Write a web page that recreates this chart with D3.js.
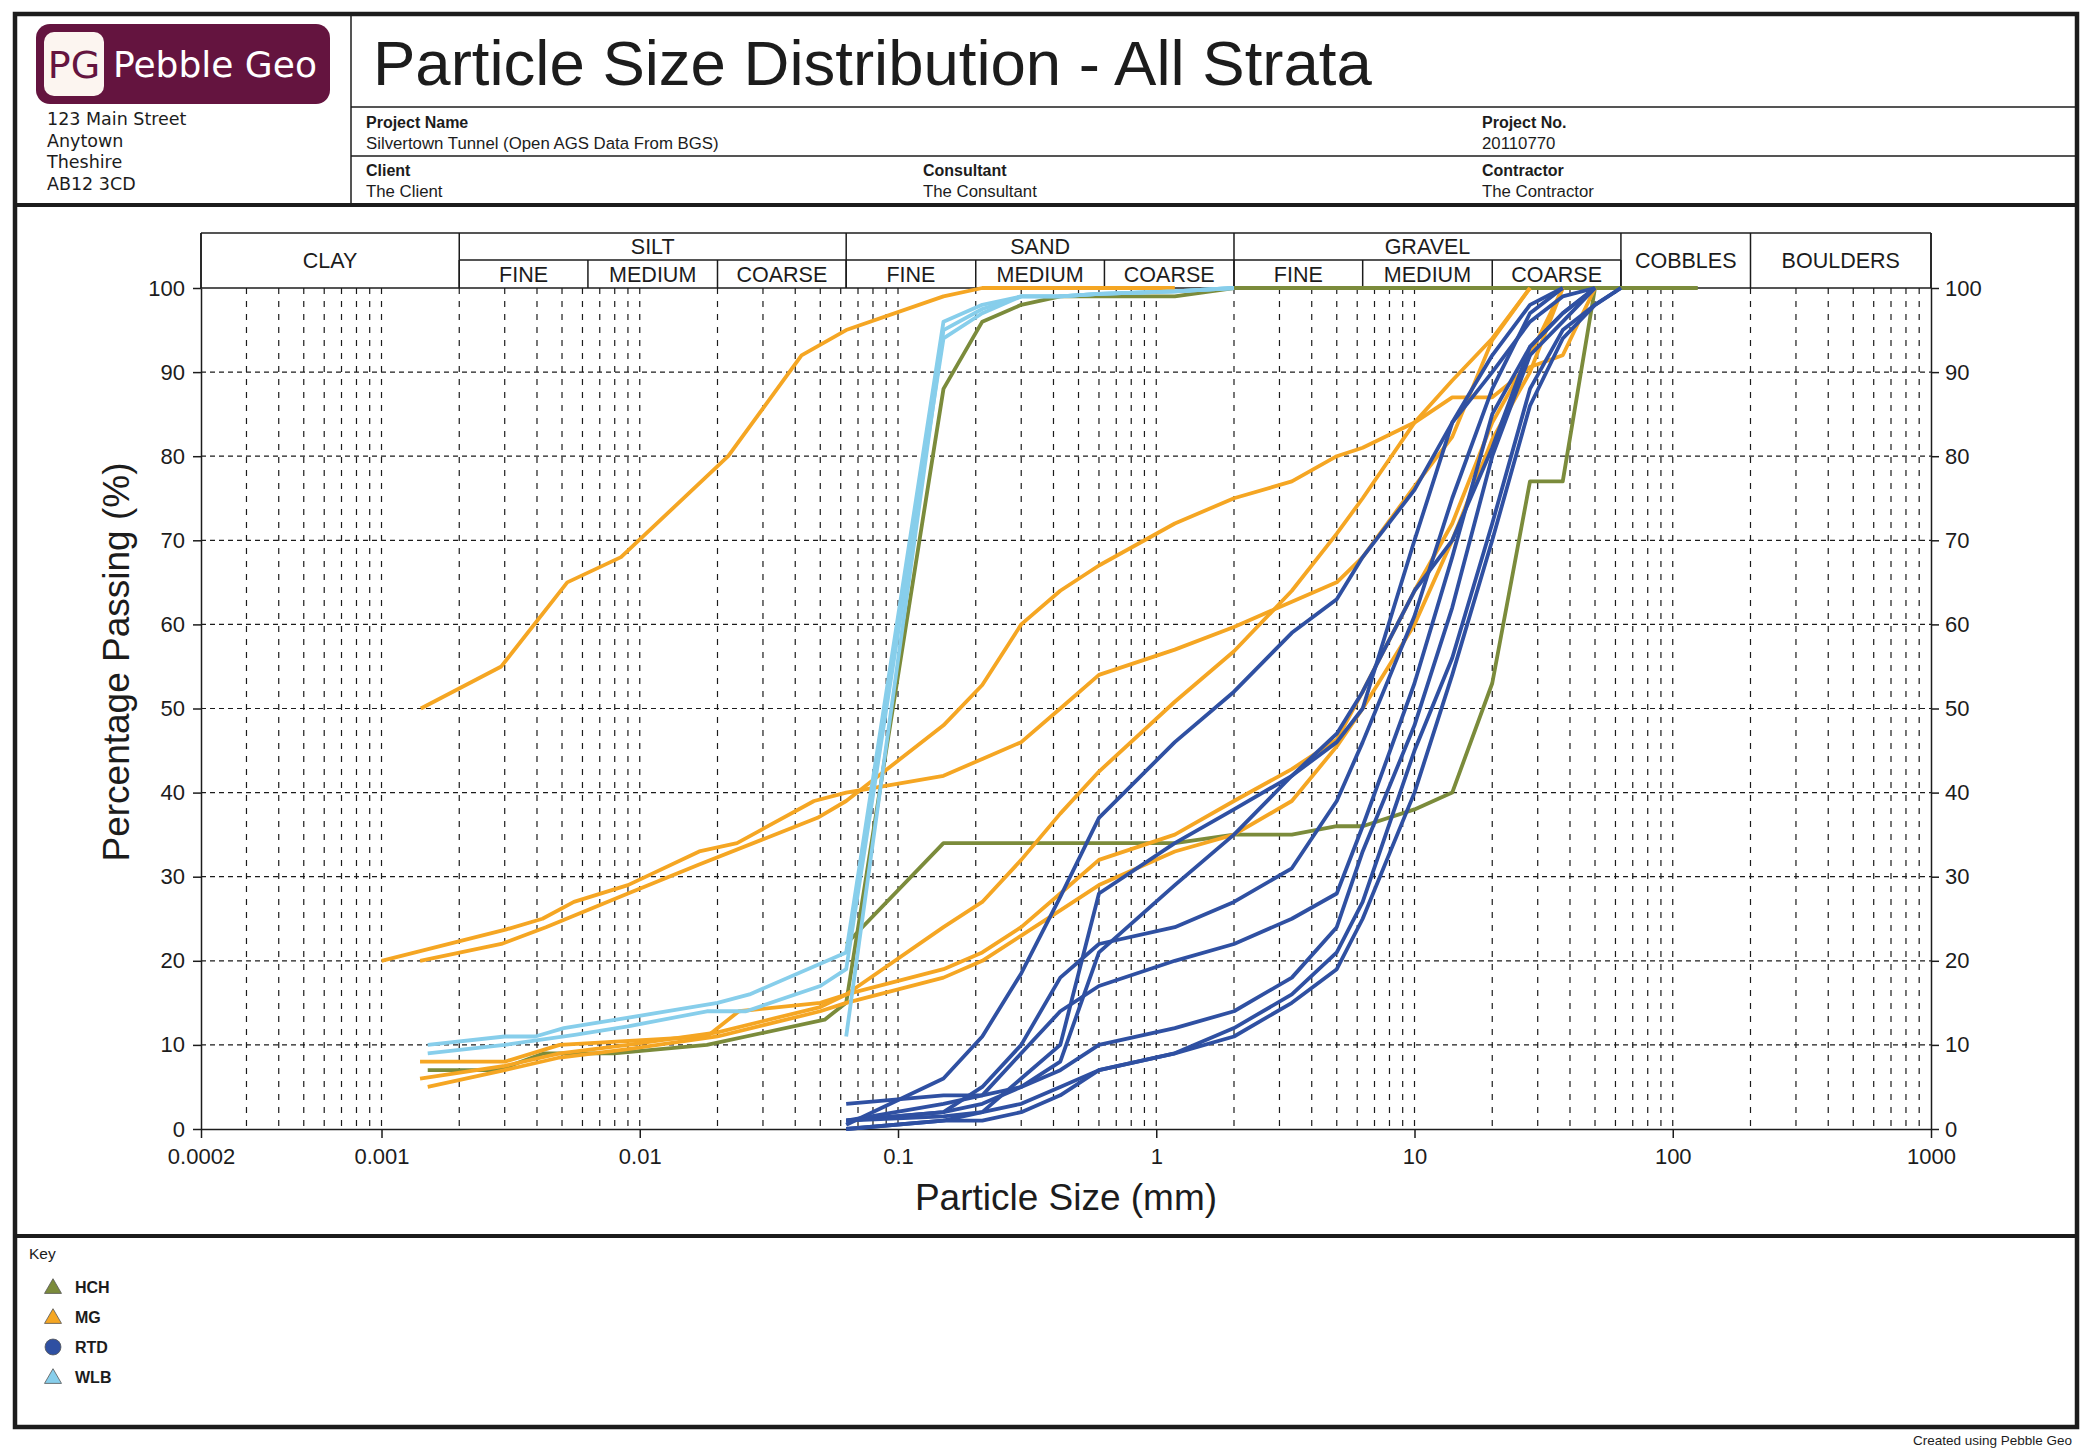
<!DOCTYPE html>
<html>
<head>
<meta charset="utf-8">
<title>Particle Size Distribution - All Strata</title>
<script src="https://cdn.jsdelivr.net/npm/d3@7"></script>
<style>
  html, body { margin: 0; padding: 0; background: #fff; }
  svg { display: block; font-family: "Liberation Sans", Arial, sans-serif; }
</style>
</head>
<body>
<svg id="chart" width="2092" height="1448"></svg>
<script>
// ---- Data -------------------------------------------------------------

const xTicks = [0.0002, 0.001, 0.01, 0.1, 1, 10, 100, 1000];
const xTickLabels = ['0.0002', '0.001', '0.01', '0.1', '1', '10', '100', '1000'];
const yTicks = [0, 10, 20, 30, 40, 50, 60, 70, 80, 90, 100];

// BS classification bands (mm)
const bandNames = ['CLAY', 'SILT', 'SAND', 'GRAVEL', 'COBBLES', 'BOULDERS'];
const bandEdges = [0.0002, 0.002, 0.063, 2, 63, 200, 1000];
const subNames = ['FINE', 'MEDIUM', 'COARSE'];
const subEdges = [0.002, 0.0063, 0.02, 0.063, 0.2, 0.63, 2, 6.3, 20, 63];

const strata = ['HCH', 'MG', 'RTD', 'WLB'];

// [particle size mm, % passing]
const hch1 = [[0.00151, 7], [0.00282, 7], [0.00426, 9], [0.00794, 9], [0.0182, 10], [0.052, 13], [0.063, 15],
  [0.15, 88], [0.212, 96], [0.3, 98], [0.425, 99], [0.6, 99], [1.18, 99], [2, 100], [3.35, 100], [5, 100],
  [10, 100], [20, 100], [37.5, 100], [50, 100], [63, 100], [90, 100], [125, 100]];
const hch2 = [[0.063, 22], [0.15, 34], [0.212, 34], [0.3, 34], [0.425, 34], [0.6, 34], [1.18, 34], [2, 35],
  [3.35, 35], [5, 36], [6.3, 36], [10, 38], [14, 40], [20, 53], [28, 77], [37.5, 77], [50, 100]];

const mg1 = [[0.00142, 50], [0.00291, 55], [0.00524, 65], [0.00846, 68], [0.022, 80], [0.0423, 92], [0.063, 95],
  [0.15, 99], [0.212, 100], [0.3, 100], [0.425, 100], [0.6, 100], [1.18, 100]];
const mg2 = [[0.001, 20], [0.00302, 23.7], [0.0042, 25], [0.00556, 27], [0.009, 29], [0.017, 33], [0.0238, 34],
  [0.0473, 39], [0.063, 40], [0.15, 42], [0.212, 44], [0.3, 46], [0.425, 50], [0.6, 54], [1.18, 57], [2, 59.7],
  [3.35, 62.7], [5, 65], [6.3, 68], [10, 76.4], [14, 82.3], [20, 93.8], [28, 100]];
const mg3 = [[0.00141, 20], [0.00291, 22], [0.00433, 24], [0.009, 28], [0.0168, 31.4], [0.0488, 37], [0.063, 39],
  [0.15, 48], [0.212, 52.8], [0.3, 60], [0.425, 64], [0.6, 67], [1.18, 72], [2, 75], [3.35, 77], [5, 80],
  [6.3, 81], [10, 84], [14, 87], [20, 87], [28, 90.6], [37.5, 92], [50, 100]];
const mg4 = [[0.00141, 8], [0.003, 8], [0.0049, 10], [0.0182, 11], [0.0242, 14], [0.05, 15], [0.063, 16],
  [0.15, 24], [0.212, 27], [0.3, 32], [0.425, 37.5], [0.6, 42.5], [1.18, 50.8], [2, 56.8], [3.35, 64], [5, 70.8],
  [6.3, 75], [10, 84], [14, 89], [20, 94], [28, 100]];
const mg5 = [[0.00141, 6], [0.003, 7.5], [0.0049, 9], [0.009, 10], [0.02, 11.5], [0.05, 14.5], [0.063, 16],
  [0.15, 19], [0.212, 21], [0.3, 24], [0.425, 28], [0.6, 32], [1.18, 35], [2, 39], [3.35, 42.8], [5, 46.3],
  [6.3, 52], [10, 64], [14, 72], [20, 84], [28, 92], [37.5, 100]];
const mg6 = [[0.00151, 5], [0.003, 7], [0.0049, 8.5], [0.009, 9.5], [0.02, 11], [0.05, 14], [0.063, 15],
  [0.15, 18], [0.212, 20], [0.3, 23], [0.425, 26], [0.6, 29], [1.18, 33], [2, 35], [3.35, 39], [5, 45.5],
  [6.3, 50], [10, 60], [14, 70], [20, 82], [28, 90], [37.5, 100]];

const rtd1 = [[0.063, 0.5], [0.15, 6], [0.212, 11], [0.3, 18.5], [0.425, 27.6], [0.6, 37], [1.18, 46], [2, 52],
  [3.35, 59], [5, 63], [6.3, 68], [10, 76], [14, 84], [20, 90], [28, 96], [37.5, 99], [50, 100]];
const rtd2 = [[0.063, 3], [0.15, 4], [0.212, 4], [0.3, 5], [0.425, 8], [0.6, 21], [1.18, 29], [2, 35], [3.35, 42],
  [5, 47], [6.3, 52], [10, 64], [14, 70], [20, 81], [28, 93], [37.5, 97], [50, 100]];
const rtd3 = [[0.063, 1], [0.15, 2], [0.212, 5], [0.3, 10], [0.425, 18], [0.6, 22], [1.18, 24], [2, 27], [3.35, 31],
  [5, 39], [6.3, 46], [10, 61], [14, 75], [20, 88], [28, 97], [37.5, 100]];
const rtd4 = [[0.063, 1], [0.15, 3], [0.212, 4], [0.3, 9], [0.425, 14], [0.6, 17], [1.18, 20], [2, 22], [3.35, 25],
  [5, 28], [6.3, 36], [10, 53], [14, 68], [20, 85], [28, 93], [37.5, 97], [50, 100]];
const rtd5 = [[0.063, 0], [0.15, 1], [0.212, 2], [0.3, 6], [0.425, 10], [0.6, 28], [1.18, 34], [2, 38], [3.35, 42],
  [5, 46], [6.3, 50], [10, 70], [14, 84], [20, 92], [28, 98], [37.5, 100]];
const rtd6 = [[0.063, 1], [0.15, 2], [0.212, 3], [0.3, 5], [0.425, 7], [0.6, 10], [1.18, 12], [2, 14], [3.35, 18],
  [5, 24], [6.3, 33], [10, 48], [14, 62], [20, 80], [28, 92], [37.5, 96], [50, 100]];
const rtd7 = [[0.063, 1], [0.15, 1.5], [0.212, 2], [0.3, 3], [0.425, 5], [0.6, 7], [1.18, 9], [2, 12], [3.35, 16],
  [5, 21], [6.3, 27], [10, 45], [14, 56], [20, 72], [28, 88], [37.5, 95], [50, 98], [63, 100]];
const rtd8 = [[0.063, 0], [0.15, 1], [0.212, 1], [0.3, 2], [0.425, 4], [0.6, 7], [1.18, 9], [2, 11], [3.35, 15],
  [5, 19], [6.3, 25], [10, 40], [14, 54], [20, 70], [28, 86], [37.5, 94], [50, 98], [63, 100]];

const wlb1 = [[0.00151, 10], [0.003, 11], [0.00394, 11], [0.00508, 12], [0.0093, 13.3], [0.02, 15], [0.0266, 16],
  [0.063, 21], [0.15, 96], [0.212, 98], [0.3, 99], [0.425, 99], [0.6, 99.3], [1.18, 99.6], [2, 100]];
const wlb2 = [[0.00151, 9], [0.003, 10], [0.0056, 11.2], [0.009, 12.2], [0.0182, 14], [0.0258, 14], [0.05, 17],
  [0.063, 19], [0.15, 94], [0.212, 97], [0.3, 99], [0.425, 99], [0.6, 99.3], [1.18, 99.6], [2, 100]];
const wlb3 = [[0.063, 11], [0.15, 95], [0.212, 97.5], [0.3, 99], [0.425, 99], [0.6, 99.3], [1.18, 99.6], [2, 100]];

const curvesByStratum = {
  HCH: [hch1, hch2],
  MG: [mg1, mg2, mg3, mg4, mg5, mg6],
  RTD: [rtd1, rtd2, rtd3, rtd4, rtd5, rtd6, rtd7, rtd8],
  WLB: [wlb1, wlb2, wlb3]
};

// ---- Styles -------------------------------------------------------------

const COLORS = { HCH: '#7b8b3b', MG: '#f5a623', RTD: '#2f50a2', WLB: '#87ceeb' };
const INK = '#1c1c1c';

const svg = d3.select('#chart');

// Plot box
const plot = { left: 201, right: 1931, top: 288, bottom: 1129, bandTop: 233, bandMid: 260 };

const x = d3.scaleLog().domain([0.0002, 1000]).range([plot.left, plot.right]);
const y = d3.scaleLinear().domain([0, 100]).range([plot.bottom, plot.top]);

// ---- Frame and title block ---------------------------------------------

const frame = svg.append('g');
frame.append('rect')
  .attr('x', 15).attr('y', 14).attr('width', 2062).attr('height', 1413)
  .attr('fill', 'none').attr('stroke', INK).attr('stroke-width', 4.5);

frame.append('line').attr('x1', 351).attr('x2', 351).attr('y1', 14).attr('y2', 205)
  .attr('stroke', INK).attr('stroke-width', 1.5);
frame.append('line').attr('x1', 351).attr('x2', 2077).attr('y1', 107).attr('y2', 107)
  .attr('stroke', INK).attr('stroke-width', 1.5);
frame.append('line').attr('x1', 351).attr('x2', 2077).attr('y1', 156).attr('y2', 156)
  .attr('stroke', INK).attr('stroke-width', 1.5);
frame.append('line').attr('x1', 15).attr('x2', 2077).attr('y1', 205).attr('y2', 205)
  .attr('stroke', INK).attr('stroke-width', 4);
frame.append('line').attr('x1', 15).attr('x2', 2077).attr('y1', 1236).attr('y2', 1236)
  .attr('stroke', INK).attr('stroke-width', 4);

// Logo
const logo = svg.append('g');
logo.append('rect').attr('x', 36).attr('y', 24).attr('width', 294).attr('height', 80)
  .attr('rx', 14).attr('fill', '#64143f');
logo.append('rect').attr('x', 44).attr('y', 32).attr('width', 60).attr('height', 64)
  .attr('rx', 10).attr('fill', '#fcf5f0');
logo.append('text').attr('x', 74).attr('y', 78).attr('text-anchor', 'middle')
  .attr('font-family', 'DejaVu Sans').attr('font-size', 38).attr('fill', '#64143f')
  .text('PG');
logo.append('text').attr('x', 113).attr('y', 77)
  .attr('font-family', 'DejaVu Sans').attr('font-size', 36).attr('fill', '#fff')
  .text('Pebble Geo');

const address = ['123 Main Street', 'Anytown', 'Theshire', 'AB12 3CD'];
svg.append('g').selectAll('text').data(address).join('text')
  .attr('x', 47).attr('y', (d, i) => 125 + i * 21.7)
  .attr('font-family', 'DejaVu Sans').attr('font-size', 17.5).attr('fill', INK)
  .text(d => d);

svg.append('text').attr('x', 373).attr('y', 85)
  .attr('font-size', 63.5).attr('fill', INK)
  .text('Particle Size Distribution - All Strata');

const infoFields = [
  { label: 'Project Name', value: 'Silvertown Tunnel (Open AGS Data From BGS)', x: 366, y: 128 },
  { label: 'Project No.', value: '20110770', x: 1482, y: 128 },
  { label: 'Client', value: 'The Client', x: 366, y: 176 },
  { label: 'Consultant', value: 'The Consultant', x: 923, y: 176 },
  { label: 'Contractor', value: 'The Contractor', x: 1482, y: 176 }
];
const info = svg.append('g').attr('fill', INK);
infoFields.forEach(f => {
  info.append('text').attr('x', f.x).attr('y', f.y)
    .attr('font-size', 16).attr('font-weight', 'bold').text(f.label);
  info.append('text').attr('x', f.x).attr('y', f.y + 20.5)
    .attr('font-size', 16.8).text(f.value);
});

// ---- Grid ---------------------------------------------------------------

const grid = svg.append('g');
const minorValues = x.ticks().filter(v => v > 0.0002 && v < 1000);

grid.selectAll('line.v').data(minorValues).join('line')
  .attr('class', 'v')
  .attr('x1', d => x(d)).attr('x2', d => x(d))
  .attr('y1', plot.top).attr('y2', plot.bottom)
  .attr('stroke', INK).attr('stroke-width', 1.2).attr('stroke-dasharray', '6,7');

grid.selectAll('line.h').data(yTicks.filter(v => v > 0 && v < 100)).join('line')
  .attr('class', 'h')
  .attr('x1', plot.left).attr('x2', plot.right)
  .attr('y1', d => y(d)).attr('y2', d => y(d))
  .attr('stroke', INK).attr('stroke-width', 1.2).attr('stroke-dasharray', '5,4');

// ---- Classification header ---------------------------------------------

const band = svg.append('g').attr('fill', INK);
const bandLine = (x1, x2, y1, y2) => band.append('line')
  .attr('x1', x1).attr('x2', x2).attr('y1', y1).attr('y2', y2)
  .attr('stroke', INK).attr('stroke-width', 1.5);

bandLine(plot.left, plot.right, plot.bandTop, plot.bandTop);
bandLine(x(0.002), x(63), plot.bandMid, plot.bandMid);
bandEdges.forEach(e => bandLine(x(e), x(e), plot.bandTop, plot.top));
subEdges.forEach(e => bandLine(x(e), x(e), plot.bandMid, plot.top));

bandNames.forEach((name, i) => {
  const hasSub = name === 'SILT' || name === 'SAND' || name === 'GRAVEL';
  band.append('text')
    .attr('x', (x(bandEdges[i]) + x(bandEdges[i + 1])) / 2)
    .attr('y', hasSub ? (plot.bandTop + plot.bandMid) / 2 : (plot.bandTop + plot.top) / 2)
    .attr('dy', '0.36em').attr('text-anchor', 'middle').attr('font-size', 21.5)
    .text(name);
});
for (let i = 0; i < subEdges.length - 1; i++) {
  band.append('text')
    .attr('x', (x(subEdges[i]) + x(subEdges[i + 1])) / 2)
    .attr('y', (plot.bandMid + plot.top) / 2)
    .attr('dy', '0.36em').attr('text-anchor', 'middle').attr('font-size', 21.5)
    .text(subNames[i % 3]);
}

// ---- Axes ---------------------------------------------------------------

const styleAxis = g => {
  g.selectAll('path').attr('stroke', INK).attr('stroke-width', 1.5);
  g.selectAll('line').attr('stroke', INK).attr('stroke-width', 1.5);
  g.selectAll('text').attr('fill', INK).attr('font-size', 22)
    .attr('font-family', '"Liberation Sans", Arial, sans-serif');
};

svg.append('g').attr('transform', `translate(0,${plot.bottom})`)
  .call(d3.axisBottom(x).tickValues(xTicks).tickFormat((d, i) => xTickLabels[i])
    .tickSize(9).tickSizeOuter(0).tickPadding(10))
  .call(styleAxis);

svg.append('g').attr('transform', `translate(${plot.left},0)`)
  .call(d3.axisLeft(y).tickValues(yTicks).tickSize(8).tickSizeOuter(0).tickPadding(8))
  .call(styleAxis);

svg.append('g').attr('transform', `translate(${plot.right},0)`)
  .call(d3.axisRight(y).tickValues(yTicks).tickSize(8).tickSizeOuter(0).tickPadding(6))
  .call(styleAxis);

// Plot border above 100 %
bandLine(plot.left, plot.left, plot.bandTop, plot.top);
bandLine(plot.right, plot.right, plot.bandTop, plot.top);
bandLine(plot.left, plot.right, plot.top, plot.top);

svg.append('text').attr('x', (plot.left + plot.right) / 2).attr('y', 1210)
  .attr('text-anchor', 'middle').attr('font-size', 37).attr('fill', INK)
  .text('Particle Size (mm)');
svg.append('text').attr('transform', 'translate(129,662) rotate(-90)')
  .attr('text-anchor', 'middle').attr('font-size', 37).attr('fill', INK)
  .text('Percentage Passing (%)');

// ---- Curves -------------------------------------------------------------

const line = d3.line().x(d => x(d[0])).y(d => y(d[1]));
const curves = svg.append('g').attr('fill', 'none')
  .attr('stroke-width', 3.8).attr('stroke-linejoin', 'round');

strata.forEach(s => {
  curves.append('g').attr('stroke', COLORS[s])
    .selectAll('path').data(curvesByStratum[s]).join('path')
    .attr('d', line);
});

// ---- Key ----------------------------------------------------------------

svg.append('text').attr('x', 29).attr('y', 1259).attr('font-size', 15.5).attr('fill', INK).text('Key');

const key = svg.append('g');
strata.forEach((s, i) => {
  const cy = 1287 + i * 30;
  key.append('path')
    .attr('transform', `translate(53,${s === 'RTD' ? cy : cy + 1.5})`)
    .attr('d', d3.symbol(s === 'RTD' ? d3.symbolCircle : d3.symbolTriangle, s === 'RTD' ? 200 : 125)())
    .attr('fill', COLORS[s]).attr('stroke', '#555').attr('stroke-width', 0.8);
  key.append('text').attr('x', 75).attr('y', cy).attr('dy', '0.36em')
    .attr('font-size', 16).attr('font-weight', 'bold').attr('fill', INK).text(s);
});

svg.append('text').attr('x', 2072).attr('y', 1445).attr('text-anchor', 'end')
  .attr('font-size', 13.5).attr('fill', INK).text('Created using Pebble Geo');
</script>
</body>
</html>
